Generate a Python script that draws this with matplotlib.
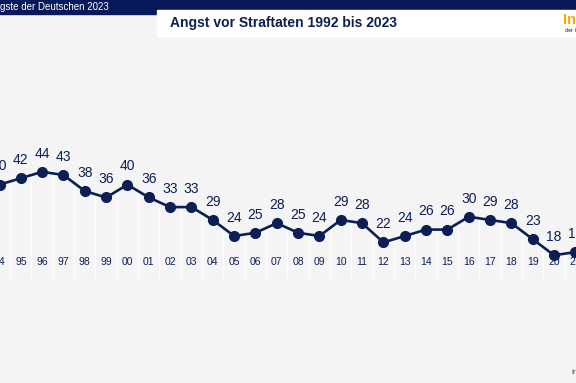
import matplotlib.pyplot as plt
import numpy as np

# Werte aus der Grafik (sichtbarer Ausschnitt 1994-2021)
jahre = ["94", "95", "96", "97", "98", "99", "00", "01", "02", "03", "04", "05", "06", "07",
         "08", "09", "10", "11", "12", "13", "14", "15", "16", "17", "18", "19", "20", "21"]
werte = [40, 42, 44, 43, 38, 36, 40, 36, 33, 33, 29, 24, 25, 28,
         25, 24, 29, 28, 22, 24, 26, 26, 30, 29, 28, 23, 18, 19]

navy = "#0b1f55"
bg = "#f4f4f4"

fig = plt.figure(figsize=(5.76, 3.83), dpi=100, facecolor=bg)
plt.rcParams['font.family'] = ['Liberation Sans', 'DejaVu Sans']

# Achse über die ganze Fläche, Skala so dass Punkte an der richtigen Stelle liegen
ax = fig.add_axes([0, 0, 1, 1])
ax.set_facecolor(bg)
x = np.arange(len(werte))
ax.set_xlim(0.5 / 21.33, 576.5 / 21.33)
ax.set_ylim(24 - 147 / 3.21, 24 + 236 / 3.21)
ax.axis("off")

# weisse Trennlinien zwischen den Jahren
for i in range(len(werte) - 1):
    top = (werte[i] + werte[i + 1]) / 2
    ax.plot([i + 0.5, i + 0.5], [top, 11], color="white", lw=1, alpha=0.85, zorder=1)

ax.plot(x, werte, color=navy, lw=1.9, marker="o", markersize=7, zorder=3)
for xi, v in zip(x, werte):
    ax.text(xi, v + 3.5, str(v), ha="center", va="bottom", fontsize=10, color=navy)
    ax.text(xi, 16.0, jahre[xi], ha="center", va="center", fontsize=7.5, color=navy)

# Kopfzeile
fig.patches.append(plt.Rectangle((0, 1 - 14 / 383), 1, 14 / 383, transform=fig.transFigure,
                                 color="#08195a", zorder=0))
fig.text(0, 1 - 7 / 383, "gste der Deutschen 2023", color="white", fontsize=7,
         ha="left", va="center")
fig.patches.append(plt.Rectangle((157 / 576, 1 - 36 / 383), 1, 26 / 383, transform=fig.transFigure,
                                 color="white", zorder=1))
fig.text(170 / 576, 1 - 23 / 383, "Angst vor Straftaten 1992 bis 2023", color=navy,
         fontsize=10, fontweight="bold", ha="left", va="center", zorder=2)
fig.text(563 / 576, 1 - 20 / 383, "In", color="#f5a800", fontsize=10.5, fontweight="bold",
         ha="left", va="center", zorder=2)
fig.text(565 / 576, 1 - 30 / 383, "der I", color=navy, fontsize=4, ha="left", va="center", zorder=2)
fig.text(571 / 576, 1 - 373 / 383, "in", color="#666666", fontsize=6, ha="left", va="center")

fig.savefig("out.png", dpi=100, facecolor=bg)
